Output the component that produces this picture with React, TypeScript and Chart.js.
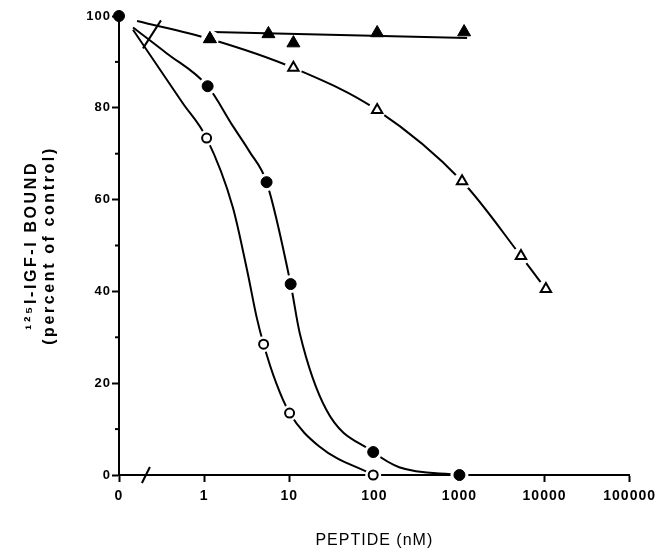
import { useEffect, useRef } from 'react';
import { Chart, registerables } from 'chart.js';

Chart.register(...registerables);

// ---- axis ticks ----
const xTickValues = [0.1, 1, 10, 100, 1000, 10000, 100000];
const xTickLabels = ['0', '1', '10', '100', '1000', '10000', '100000'];
const yMinorTicks = [10, 30, 50, 70, 90];

// ---- measured points (markers) ----
const filledCircleX = [0.1, 1.1, 5.42, 10.4, 97, 1000];
const filledCircleY = [100, 84.7, 63.8, 41.6, 5.0, 0];
const openCircleX = [1.07, 5.0, 10.1, 97];
const openCircleY = [73.4, 28.5, 13.5, 0];
const filledTriX = [1.17, 5.7, 11.2, 108, 1135];
const filledTriY = [95.0, 96.1, 94.1, 96.3, 96.5];
const openTriX = [1.17, 11.2, 108, 1074, 5285, 10380];
const openTriY = [95.0, 88.7, 79.5, 64.0, 47.7, 40.5];

// ---- fitted curves ----
const filledCircleCurveX = [0.146, 0.362, 1.1, 2.18, 3.43, 5.42, 10.4, 13.3, 27.3, 97, 196, 1000];
const filledCircleCurveY = [97.5, 91.9, 84.7, 76.0, 70.4, 63.8, 41.6, 30.9, 14.2, 5.0, 1.7, 0];
const openCircleCurveX = [0.146, 0.562, 1.07, 2.17, 3.25, 4.14, 5.0, 7.04, 10.1, 22.6, 97];
const openCircleCurveY = [97.0, 81.0, 73.4, 58.4, 44.0, 34.4, 28.5, 20.0, 13.5, 6.2, 0];
const openTriCurveX = [0.163, 1.17, 11.2, 108, 1074, 5285, 10380];
const openTriCurveY = [98.9, 95.0, 88.7, 79.5, 64.0, 47.7, 40.5];
const filledTriLineX = [1.26, 1230];
const filledTriLineY = [96.5, 95.2];

// ---- axis break marks (data coordinates) ----
const axisBreakX = 0.207;
const curveBreakX = 0.244;
const curveBreakY = 96;

const FONT = "'Liberation Sans', Arial, Helvetica, sans-serif";

const pts = (xs: number[], ys: number[]) => xs.map((x, i) => ({ x, y: ys[i] }));

function markerSet(xs: number[], ys: number[], style: string, radius: number, bg: string, bw: number) {
  return {
    type: 'line' as const,
    data: pts(xs, ys),
    showLine: false,
    pointStyle: style,
    pointRadius: radius,
    pointHoverRadius: radius,
    pointBackgroundColor: bg,
    pointBorderColor: '#000',
    pointBorderWidth: bw,
    clip: false as any,
  };
}

function curveSet(xs: number[], ys: number[], markerXs: number[], gap: number) {
  return {
    type: 'line' as const,
    data: pts(xs, ys),
    borderColor: '#000',
    borderWidth: 2,
    cubicInterpolationMode: 'monotone' as const,
    pointRadius: (ctx: any) => (markerXs.includes(xs[ctx.dataIndex]) ? gap : 0),
    pointHoverRadius: 0,
    pointBackgroundColor: '#fff',
    pointBorderWidth: 0,
    pointBorderColor: '#fff',
    fill: false,
    clip: false as any,
  };
}

const spacingPlugin = {
  id: 'spacing',
  beforeDraw(chart: any) {
    (chart.ctx as any).letterSpacing = '1px';
  },
};

const decorPlugin = {
  id: 'decor',
  afterDraw(chart: any) {
    const { ctx, chartArea } = chart;
    const x = chart.scales.x;
    const y = chart.scales.y;
    ctx.save();
    ctx.strokeStyle = '#000';
    ctx.lineWidth = 2;
    for (const v of yMinorTicks) {
      const py = y.getPixelForValue(v);
      ctx.beginPath();
      ctx.moveTo(chartArea.left - 4, py);
      ctx.lineTo(chartArea.left, py);
      ctx.stroke();
    }
    const bx = x.getPixelForValue(axisBreakX);
    ctx.beginPath();
    ctx.moveTo(bx - 4, chartArea.bottom + 8);
    ctx.lineTo(bx + 4, chartArea.bottom - 8);
    ctx.stroke();
    const cx = x.getPixelForValue(curveBreakX);
    const cy = y.getPixelForValue(curveBreakY);
    ctx.beginPath();
    ctx.moveTo(cx - 9, cy + 14);
    ctx.lineTo(cx + 9, cy - 14);
    ctx.stroke();
    ctx.restore();
  },
};

function spaceTitle(s: any, spacing: string) {
  if (s.__spaced) return;
  const orig = s.drawTitle;
  s.drawTitle = function (...args: any[]) {
    const c = this.ctx as any;
    const prev = c.letterSpacing;
    c.letterSpacing = spacing;
    orig.apply(this, args);
    c.letterSpacing = prev;
  };
  s.__spaced = true;
}

export default function App() {
  const ref = useRef<HTMLCanvasElement | null>(null);

  useEffect(() => {
    if (!ref.current) return;
    const chart = new Chart(ref.current, {
      type: 'line',
      data: {
        datasets: [
          markerSet(filledCircleX, filledCircleY, 'circle', 5.5, '#000', 1),
          markerSet(openCircleX, openCircleY, 'circle', 4.5, '#fff', 2),
          markerSet(filledTriX, filledTriY, 'triangle', 7.5, '#000', 1),
          markerSet(openTriX, openTriY, 'triangle', 6, '#fff', 2),
          curveSet(filledCircleCurveX, filledCircleCurveY, filledCircleX, 9),
          curveSet(openCircleCurveX, openCircleCurveY, openCircleX, 8),
          curveSet(openTriCurveX, openTriCurveY, openTriX, 9),
          curveSet(filledTriLineX, filledTriLineY, filledTriX, 0),
        ] as any,
      },
      options: {
        animation: false,
        responsive: false,
        maintainAspectRatio: false,
        devicePixelRatio: 1,
        layout: { padding: { left: 0, top: 16, right: 28, bottom: 0 } },
        plugins: { legend: { display: false }, tooltip: { enabled: false } },
        events: [],
        scales: {
          x: {
            type: 'logarithmic',
            min: 0.1,
            max: 100000,
            afterBuildTicks: (s: any) => {
              s.ticks = xTickValues.map((v) => ({ value: v }));
            },
            afterFit: (s: any) => {
              s.height = 78;
            },
            grid: {
              drawOnChartArea: false,
              drawTicks: true,
              tickLength: 7,
              tickColor: '#000',
              tickWidth: 2,
            },
            border: { display: true, color: '#000', width: 2 },
            ticks: {
              autoSkip: false,
              maxRotation: 0,
              padding: 6,
              color: '#000',
              font: { family: FONT, size: 14, weight: 'bold' },
              callback: (_v: any, i: number) => xTickLabels[i],
            },
            title: {
              display: true,
              text: 'PEPTIDE (nM)',
              color: '#000',
              font: { family: FONT, size: 16, weight: 'normal', lineHeight: 1.2 },
              padding: { top: 0, bottom: 3 },
            },
          },
          y: {
            type: 'linear',
            min: 0,
            max: 100,
            afterFit: (s: any) => {
              s.width = 119;
              spaceTitle(s, '2.6px');
            },
            grid: {
              drawOnChartArea: false,
              drawTicks: true,
              tickLength: 7,
              tickColor: '#000',
              tickWidth: 2,
            },
            border: { display: true, color: '#000', width: 2 },
            ticks: {
              stepSize: 20,
              padding: 1,
              color: '#000',
              font: { family: FONT, size: 13, weight: 'bold' },
            },
            title: {
              display: true,
              text: ['\u00B9\u00B2\u2075I-IGF-I BOUND', '(percent of control)'],
              color: '#000',
              font: { family: FONT, size: 16, weight: 'bold', lineHeight: 1.1 },
              padding: { top: 23, bottom: 0 },
            },
          },
        },
      } as any,
      plugins: [spacingPlugin, decorPlugin],
    });
    return () => chart.destroy();
  }, []);

  return (
    <div style={{ position: 'fixed', left: 0, top: 0, width: 659, height: 553, background: '#fff' }}>
      <canvas ref={ref} width={659} height={553} style={{ display: 'block', width: 659, height: 553 }} />
    </div>
  );
}
